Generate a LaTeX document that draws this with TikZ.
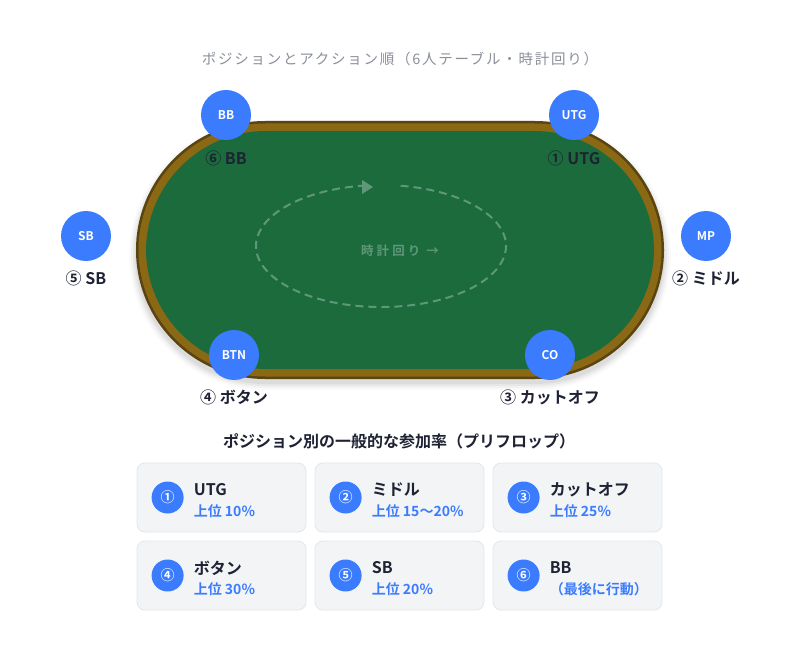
\documentclass[tikz,border=0pt]{standalone}
\usepackage{fontspec}
\setmainfont{Noto Sans CJK JP}[BoldFont={Noto Sans CJK JP Bold}]
\newfontfamily\titlefont{Noto Sans CJK JP}[LetterSpace=12.0]
\newfontfamily\feltfont{Noto Sans CJK JP Bold}[LetterSpace=25.0]
\definecolor{seatblue}{HTML}{3B7CFF}
\definecolor{felt}{HTML}{1B6B3D}
\definecolor{rim}{HTML}{8B6914}
\definecolor{rimdark}{HTML}{5A4410}
\definecolor{ink}{HTML}{1E2233}
\definecolor{titlegray}{HTML}{8A8F99}
\definecolor{cardfill}{HTML}{F3F4F6}
\definecolor{cardline}{HTML}{E3E6EA}
\definecolor{feltmark}{HTML}{5E9878}
\tikzset{
  seat/.style={circle, fill=seatblue, minimum size=50pt, inner sep=0pt, text=white,
    font=\bfseries\fontsize{12}{12}\selectfont},
  seatlabel/.style={inner sep=0pt, text=ink, font=\bfseries\fontsize{16}{16}\selectfont},
  card/.style={draw=cardline, fill=cardfill, rounded corners=8pt, line width=0.8pt,
    minimum width=169pt, minimum height=69pt, inner sep=0pt},
  badge/.style={circle, fill=seatblue, minimum size=32pt, inner sep=0pt, text=white,
    font=\bfseries\fontsize{14}{14}\selectfont},
  ctitle/.style={anchor=west, inner sep=0pt, text=ink, font=\bfseries\fontsize{16}{16}\selectfont},
  csub/.style={anchor=west, inner sep=0pt, text=seatblue, font=\bfseries\fontsize{14}{14}\selectfont},
  heading/.style={inner sep=0pt, text=ink, font=\bfseries\fontsize{16}{16}\selectfont},
}
\begin{document}
\begin{tikzpicture}[x=1pt,y=-1pt]
\useasboundingbox (0,0) rectangle (800,660);
\fill[white] (0,0) rectangle (800,660);

% title
\node[inner sep=0pt, text=titlegray, font=\titlefont\fontsize{14.5}{14.5}\selectfont] (title) at (400,59) {ポジションとアクション順（6人テーブル・時計回り）};

% table shadow
\foreach \s/\o in {8/0.02,6/0.03,4/0.04,2/0.05}{
  \fill[black, opacity=\o, rounded corners=128pt+\s pt] (137-\s,124-\s+4) rectangle (663+\s,378+\s+4);
}
% table
\fill[rimdark, rounded corners=129pt] (136,121) rectangle (664,379);
\fill[rim, rounded corners=127pt] (138.5,123.5) rectangle (661.5,376.5);
\fill[felt, rounded corners=120pt] (146,131) rectangle (654,369);

% clockwise marker
\draw[feltmark, line width=2pt, dash pattern=on 8pt off 5pt]
  (381,246) ++(279:125 and 61) arc[start angle=279, end angle=621.5, x radius=125, y radius=61];
\fill[feltmark] (362,180) -- (373,187) -- (362,194) -- cycle;
\node[inner sep=0pt, text=feltmark, font=\feltfont\fontsize{12.5}{12.5}\selectfont] (cw) at (400,251) {時計回り →};

% seats
\node[seat] (bb)  at (226,115) {BB};
\node[seat] (utg) at (574,115) {UTG};
\node[seat] (sb)  at (86,236)  {SB};
\node[seat] (mp)  at (706,236) {MP};
\node[seat] (btn) at (234,355) {BTN};
\node[seat] (co)  at (550,355) {CO};

\node[seatlabel] (lbb)  at (226,158) {⑥ BB};
\node[seatlabel] (lutg) at (574,158) {① UTG};
\node[seatlabel] (lsb)  at (86,278)  {⑤ SB};
\node[seatlabel] (lmp)  at (706,278) {② ミドル};
\node[seatlabel] (lbtn) at (234,397) {④ ボタン};
\node[seatlabel] (lco)  at (550,397) {③ カットオフ};

% heading
\node[heading] (head) at (399,441) {ポジション別の一般的な参加率（プリフロップ）};

% cards
\foreach \n/\cx/\cy/\num/\ttl/\sub in {
  1/221.5/497.5/①/UTG/上位 10\%,
  2/399.5/497.5/②/ミドル/上位 15〜20\%,
  3/577.5/497.5/③/カットオフ/上位 25\%,
  4/221.5/575.5/④/ボタン/上位 30\%,
  5/399.5/575.5/⑤/SB/上位 20\%,
  6/577.5/575.5/⑥/BB/（最後に行動）}{
  \node[card] (card\n) at (\cx,\cy) {};
  \node[badge] (badge\n) at ([xshift=31pt]card\n.west) {\num};
  \node[ctitle] (ct\n) at ([xshift=57pt,yshift=7.5pt]card\n.west) {\ttl};
  \node[csub] (cs\n) at ([xshift=57pt,yshift=-13.5pt]card\n.west) {\sub};
}
\end{tikzpicture}
\end{document}
